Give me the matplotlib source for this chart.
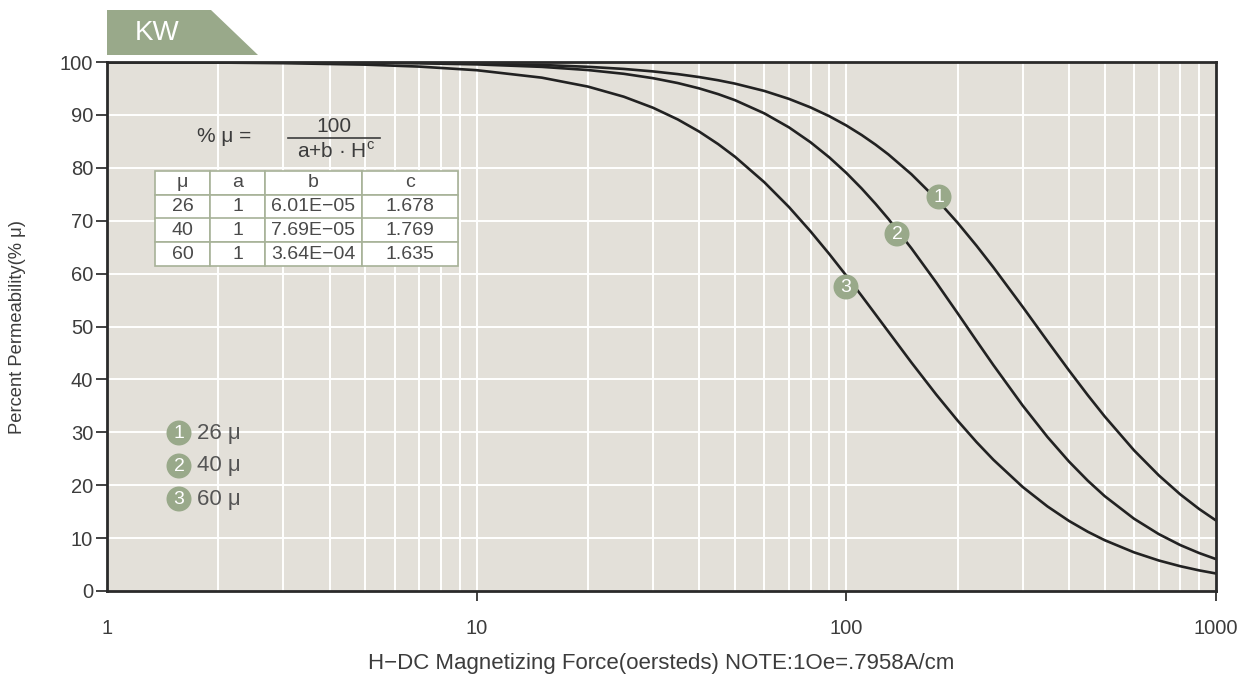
import numpy as np
import matplotlib.pyplot as plt
from matplotlib.patches import Polygon, Ellipse
from matplotlib.lines import Line2D

plt.rcParams['font.family'] = ['Liberation Sans', 'DejaVu Sans']

# values
H = [1, 2, 3, 5, 7, 10, 15, 20, 25, 30, 35, 40, 45, 50, 60, 70, 80, 90, 100,
     110, 120, 130, 150, 175, 200, 225, 250, 300, 350, 400, 450, 500, 600,
     700, 800, 900, 1000]
mu26 = [100.0, 99.98, 99.96, 99.91, 99.84, 99.71, 99.44, 99.09, 98.69, 98.22,
        97.71, 97.15, 96.55, 95.91, 94.53, 93.02, 91.42, 89.74, 88.00, 86.20,
        84.37, 82.52, 78.78, 74.14, 69.61, 65.27, 61.17, 53.71, 47.24, 41.72,
        37.01, 32.99, 26.60, 21.87, 18.28, 15.51, 13.33]
mu40 = [99.99, 99.97, 99.95, 99.87, 99.76, 99.55, 99.08, 98.48, 97.77, 96.94,
        96.02, 95.01, 93.93, 92.78, 90.29, 87.63, 84.83, 81.95, 79.03, 76.09,
        73.18, 70.32, 64.78, 58.34, 52.51, 47.30, 42.69, 35.05, 29.12, 24.49,
        20.85, 17.93, 13.67, 10.76, 8.69, 7.18, 6.03]
mu60 = [99.96, 99.89, 99.78, 99.50, 99.13, 98.45, 97.04, 95.35, 93.44, 91.35,
        89.14, 86.84, 84.48, 82.08, 77.27, 72.56, 67.99, 63.67, 59.60, 55.80,
        52.27, 49.01, 43.19, 37.15, 32.21, 28.15, 24.80, 19.66, 15.99, 13.26,
        11.20, 9.60, 7.31, 5.77, 4.69, 3.90, 3.31]

table_cols = ['μ', 'a', 'b', 'c']
table_rows = [['26', '1', '6.01E−05', '1.678'],
              ['40', '1', '7.69E−05', '1.769'],
              ['60', '1', '3.64E−04', '1.635']]
legend_labels = ['26 μ', '40 μ', '60 μ']

green = '#99a98a'
txt = '#3c3c3c'
W, Hpx = 1255, 677

fig = plt.figure(figsize=(12.55, 6.77), dpi=100)
ax = fig.add_axes([107 / W, 1 - 591 / Hpx, 1109 / W, 529 / Hpx])
ax.set_facecolor('#e3e0d9')
ax.set_xscale('log')
ax.set_xlim(1, 1000)
ax.set_ylim(0, 100)

# white grid
for dec in [1, 10, 100]:
    for k in range(2, 10):
        ax.axvline(dec * k, color='white', lw=1.4, zorder=1)
for dec in [10, 100]:
    ax.axvline(dec, color='white', lw=1.4, zorder=1)
for yv in range(10, 100, 10):
    ax.axhline(yv, color='white', lw=1.4, zorder=1)

for s in [mu26, mu40, mu60]:
    ax.plot(H, s, color='#222222', lw=1.9, zorder=3, solid_capstyle='round')

for sp in ax.spines.values():
    sp.set_linewidth(2)
    sp.set_color('#2a2a2a')
    sp.set_zorder(4)

ax.set_yticks(range(0, 101, 10))
ax.set_xticks([1, 10, 100, 1000])
ax.set_xticklabels(['1', '10', '100', '1000'])
ax.xaxis.set_minor_locator(plt.NullLocator())
ax.tick_params(axis='y', length=8, width=1.3, color='#333333', pad=2,
               labelsize=14.5, labelcolor=txt)
ax.tick_params(axis='x', length=7, width=1.3, color='#333333', pad=13,
               labelsize=14.5, labelcolor=txt)
ax.xaxis.get_major_ticks()[0].tick1line.set_visible(False)
ax.set_ylabel('Percent Permeability(% μ)', fontsize=13.2, color=txt)
ax.yaxis.set_label_coords(-(107 - 18) / 1109, 0.5)
ax.set_xlabel('H−DC Magnetizing Force(oersteds) NOTE:1Oe=.7958A/cm',
              fontsize=16, color=txt)
ax.xaxis.set_label_coords(0.5, -(664 - 591) / 529)
ax.xaxis.label.set_va('center')
ax.yaxis.label.set_va('center')


def fx(px):
    return px / W


def fy(py):
    return 1 - py / Hpx


# KW tab
fig.patches.append(Polygon([(fx(107), fy(10)), (fx(211), fy(10)),
                            (fx(258), fy(55)), (fx(107), fy(55))],
                           closed=True, transform=fig.transFigure,
                           facecolor=green, edgecolor='none'))
fig.text(fx(157), fy(33), 'KW', color='white', fontsize=20,
         ha='center', va='center')

# formula
fig.text(fx(224), fy(136), '% μ =', fontsize=15, color=txt, ha='center', va='center')
fig.text(fx(334), fy(127), '100', fontsize=15, color=txt, ha='center', va='center')
fig.add_artist(Line2D([fx(288), fx(380)], [fy(138), fy(138)], color=txt, lw=1.2))
fig.text(fx(336), fy(151), 'a+b · H$^{\\mathregular{c}}$', fontsize=15, color=txt,
         ha='center', va='center')

# parameter table
tb = ax.table(cellText=table_rows, colLabels=table_cols, cellLoc='center',
              colWidths=[55, 55, 97, 96],
              bbox=[(155 - 107) / 1109, (591 - 266) / 529, 303 / 1109, 95 / 529])
tb.auto_set_font_size(False)
tb.set_zorder(5)
for (r, c), cell in tb.get_celld().items():
    cell.set_facecolor('white')
    cell.set_edgecolor('#a7b298')
    cell.set_linewidth(1.2)
    cell.get_text().set_fontsize(14)
    cell.get_text().set_color('#4a4a4a')


# numbered markers
def badge(x, y, n):
    fig.add_artist(Ellipse((fx(x), fy(y)), 25 / W, 25 / Hpx,
                           transform=fig.transFigure,
                           facecolor=green, edgecolor='none', zorder=6))
    fig.text(fx(x), fy(y) - 0.001, str(n), color='white', fontsize=14,
             ha='center', va='center', zorder=7)


for i, lab in enumerate(legend_labels):
    badge(179, 433 + 33 * i, i + 1)
    fig.text(fx(197), fy(433 + 33 * i), lab, fontsize=16, color='#555555',
             va='center', ha='left')

badge(939, 197, 1)
badge(897, 234, 2)
badge(846, 287, 3)

fig.savefig('out.png', dpi=100, facecolor='white')
